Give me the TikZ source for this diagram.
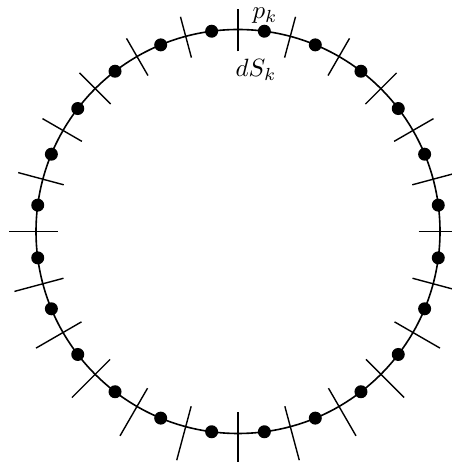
\documentclass[tikz,border=0pt]{standalone}
\begin{document}
\begin{tikzpicture}[x=1pt,y=1pt,
  rim/.style={line width=1.6pt},
  tick/.style={line width=1.4pt},
  dot/.style={circle,fill=black,inner sep=0pt,minimum size=13pt},
  lab/.style={scale=2.5,inner sep=0pt}]
\useasboundingbox (0,0) rectangle (451,462);
\coordinate (O) at (238,230.5);
\draw[rim] (O) circle (202);
\begin{scope}[shift={(238,230.5)}]
\foreach \i in {0,...,23}{
  \pgfmathsetmacro\t{90+15*\i}
  \pgfmathsetmacro\L{49-7*sin(\t)}
  \pgfmathsetmacro\c{3-4*sin(\t)}
  \pgfmathsetmacro\ra{202+\c-\L/2}
  \pgfmathsetmacro\rb{202+\c+\L/2}
  \coordinate (ta\i) at (\t:\ra);
  \coordinate (tb\i) at (\t:\rb);
  \draw[tick] (ta\i) -- (tb\i);
  \node[dot] (p\i) at (\t+7.5:202) {};
}
\end{scope}
\node[lab] (pk) at (265,446) {$p_k$};
\node[lab] (dSk) at (256,392) {$dS_k$};
\end{tikzpicture}
\end{document}
